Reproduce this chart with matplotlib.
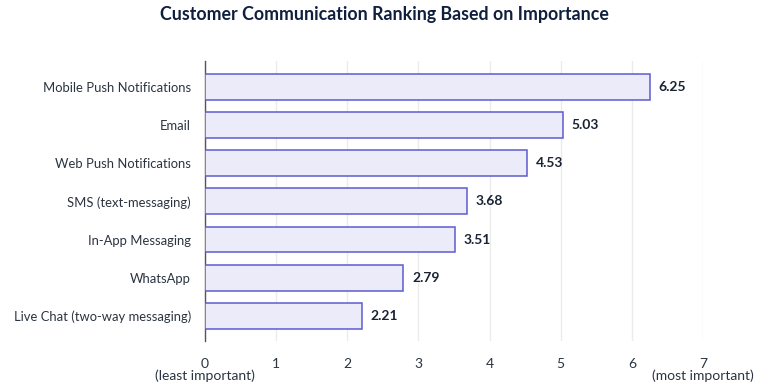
import matplotlib.pyplot as plt

channels = ['Mobile Push Notifications', 'Email', 'Web Push Notifications',
            'SMS (text-messaging)', 'In-App Messaging', 'WhatsApp',
            'Live Chat (two-way messaging)']
scores = [6.25, 5.03, 4.53, 3.68, 3.51, 2.79, 2.21]
xticks = [0, 1, 2, 3, 4, 5, 6, 7]

plt.rcParams['font.family'] = ['Lato', 'DejaVu Sans']
text_color = '#2b3440'

fig = plt.figure(figsize=(7.69, 3.88), dpi=100)
ax = fig.add_axes([205 / 769, 1 - 341 / 388, (703 - 205) / 769, (341 - 61) / 388])

ypos = list(range(len(channels)))
ax.barh(ypos, scores, height=0.68, color='#ebebfa', edgecolor='#5c5cd0', linewidth=1.1, zorder=3)
for y, v in zip(ypos, scores):
    ax.text(v + 0.12, y, f'{v:.2f}', va='center', ha='left', fontsize=10,
            fontweight='bold', color='#1a2333')

ax.set_xlim(0, 7)
ax.set_ylim(len(channels) - 0.34, -0.68)
ax.set_yticks(ypos)
ax.set_yticklabels(channels, fontsize=9.4, color=text_color)
ax.set_xticks(xticks)
ax.set_xticklabels([str(t) for t in xticks], fontsize=10, color=text_color)
ax.tick_params(axis='x', length=0, pad=12)
ax.tick_params(axis='y', length=0, pad=10)
ax.grid(axis='x', color='#ebebeb', linewidth=1, zorder=0)
for s in ['top', 'right', 'bottom']:
    ax.spines[s].set_visible(False)
ax.spines['left'].set_color('#555555')
ax.spines['left'].set_linewidth(1)

ax.text(0, -0.1, '(least important)', transform=ax.get_xaxis_transform(),
        ha='center', va='top', fontsize=10, color=text_color)
ax.text(7, -0.1, '(most important)', transform=ax.get_xaxis_transform(),
        ha='center', va='top', fontsize=10, color=text_color)

fig.suptitle('Customer Communication Ranking Based on Importance', x=0.5, y=0.985,
             fontsize=12.8, fontweight='bold', color='#0f1f3d')

fig.savefig('out.png', dpi=100)
